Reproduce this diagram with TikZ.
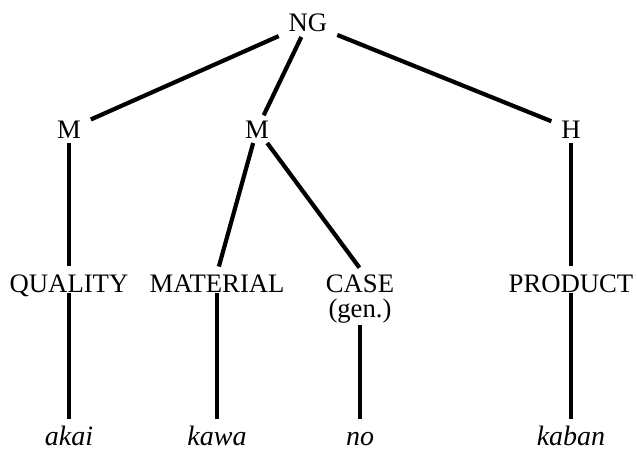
\documentclass[tikz,border=0pt]{standalone}
\usepackage{fontspec}
\setmainfont{Liberation Serif}
\begin{document}
\begin{tikzpicture}[x=1pt,y=-1pt,
  lab/.style={anchor=base, font=\fontsize{26.7pt}{30pt}\selectfont,
    inner xsep=10pt, outer sep=0pt, text height=17.7pt, text depth=0pt},
  upper/.style={lab, inner ysep=5pt},
  cat/.style={lab, inner ysep=1pt},
  word/.style={anchor=base, font=\fontsize{28pt}{30pt}\selectfont\itshape,
    inner xsep=4pt, inner ysep=7pt, outer sep=0pt, text height=19pt, text depth=0pt},
  branch/.style={line width=4.2pt},
  down/.style={branch, shorten >=7pt}]
\useasboundingbox (0,0) rectangle (637,452);

% phrase and its constituents
\node[upper] (ng) at (308,32) {NG};
\node[upper] (m1) at (69,138) {M};
\node[upper] (m2) at (257,138) {M};
\node[upper] (h)  at (571,138) {H};

% semantic categories
\node[cat] (quality)  at (69,292)  {QUALITY};
\node[cat] (material) at (217,292) {MATERIAL};
\node[cat] (case)     at (360,292) {CASE};
\node[cat, text depth=5pt, inner ysep=3pt] (gen) at (360,317) {(gen.)};
\node[cat] (product)  at (571,292) {PRODUCT};

% Japanese words
\node[word] (akai)  at (69,445)  {akai};
\node[word] (kawa)  at (217,445) {kawa};
\node[word] (no)    at (360,445) {no};
\node[word] (kaban) at (571,445) {kaban};

% tree branches
\draw[branch] (ng) -- (m1);
\draw[branch] (ng) -- (m2);
\draw[branch] (ng) -- (h);
\draw[down] (m1) -- (quality);
\draw[down] (m2) -- (material.north);
\draw[down] (m2) -- (case.70);
\draw[down] (h) -- (product);
\draw[branch] (quality) -- (akai);
\draw[branch] (material) -- (kawa);
\draw[branch] (gen) -- (no);
\draw[branch] (product) -- (kaban);
\end{tikzpicture}
\end{document}
